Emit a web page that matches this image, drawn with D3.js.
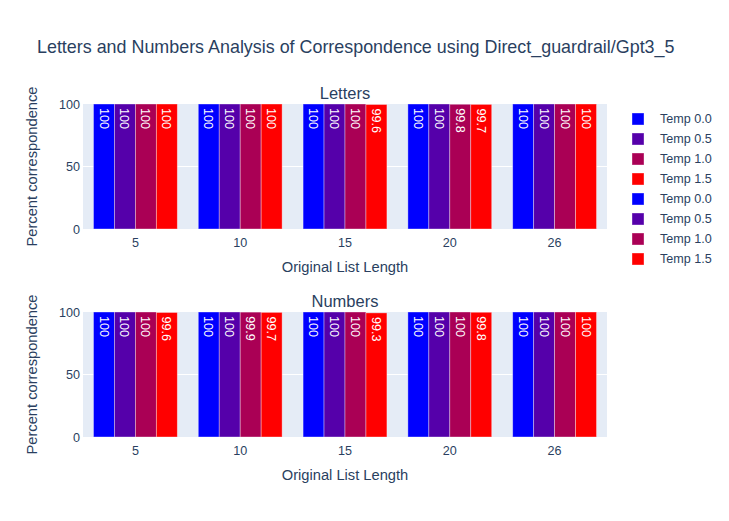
<!DOCTYPE html>
<html><head><meta charset="utf-8">
<script src="https://cdn.jsdelivr.net/npm/d3@7"></script>
<style>body{margin:0;background:#fff}svg{display:block}</style>
</head><body>
<script>
const categories = ["5","10","15","20","26"];
const seriesNames = ["Temp 0.0","Temp 0.5","Temp 1.0","Temp 1.5"];
const seriesColors = ["#0000FF","#5500AA","#AA0055","#FF0000"];
const lettersT00 = [100,100,100,100,100];
const lettersT05 = [100,100,100,100,100];
const lettersT10 = [100,100,100,99.8,100];
const lettersT15 = [100,100,99.6,99.7,100];
const numbersT00 = [100,100,100,100,100];
const numbersT05 = [100,100,100,100,100];
const numbersT10 = [100,99.9,100,100,100];
const numbersT15 = [99.6,99.7,99.3,99.8,100];
const yTicks = [0,50,100];
const titleText = "Letters and Numbers Analysis of Correspondence using Direct_guardrail/Gpt3_5";

const W=729,H=521;
const font='"Liberation Sans", Arial, sans-serif';
const textCol="#2a3f5f";
const svg=d3.select("body").append("svg").attr("width",W).attr("height",H);

svg.append("text").attr("x",37).attr("y",53).attr("font-family",font).attr("font-size",17.9)
  .attr("fill",textCol).text(titleText);

const panels=[
  {name:"Letters",top:104,bottom:229,data:[lettersT00,lettersT05,lettersT10,lettersT15]},
  {name:"Numbers",top:312,bottom:437,data:[numbersT00,numbersT05,numbersT10,numbersT15]}
];
const left=83,right=607;
const x=d3.scaleBand().domain(categories).range([left,right]).paddingInner(0.2).paddingOuter(0.1);
const xs=d3.scaleBand().domain(seriesNames).range([0,x.bandwidth()]);

panels.forEach(p=>{
  const y=d3.scaleLinear().domain([0,100]).range([p.bottom,p.top]);
  const g=svg.append("g");
  g.append("rect").attr("x",left).attr("y",p.top).attr("width",right-left).attr("height",p.bottom-p.top).attr("fill","#E5ECF6");
  g.selectAll(".grid").data(yTicks.filter(t=>t>0&&t<100)).join("line")
    .attr("x1",left).attr("x2",right).attr("y1",d=>y(d)).attr("y2",d=>y(d)).attr("stroke","#fff").attr("stroke-width",1);
  const ya=g.append("g").attr("transform",`translate(${left},0)`).call(d3.axisLeft(y).tickValues(yTicks).tickSize(0).tickPadding(3));
  ya.select(".domain").remove();
  ya.selectAll("text").attr("font-family",font).attr("font-size",12.6).attr("fill",textCol);
  const xa=g.append("g").attr("transform",`translate(0,${p.bottom})`).call(d3.axisBottom(x).tickSize(0).tickPadding(9));
  xa.select(".domain").remove();
  xa.selectAll("text").attr("font-family",font).attr("font-size",12.6).attr("fill",textCol);
  seriesNames.forEach((s,si)=>{
    const vals=p.data[si];
    const bg=g.append("g");
    bg.selectAll("rect").data(vals).join("rect")
      .attr("x",(d,i)=>x(categories[i])+xs(s))
      .attr("y",d=>y(d)).attr("width",xs.bandwidth()).attr("height",d=>p.bottom-y(d))
      .attr("fill",seriesColors[si]).attr("stroke","rgba(255,255,255,0.45)").attr("stroke-width",0.8);
    bg.selectAll("text").data(vals).join("text")
      .attr("transform",(d,i)=>`translate(${x(categories[i])+xs(s)+xs.bandwidth()/2},${y(d)+4}) rotate(90)`)
      .attr("dy","0.35em").attr("text-anchor","start")
      .attr("font-family",font).attr("font-size",12.6).attr("fill","#fff")
      .text(d=>d3.format("")(d));
  });
  svg.append("text").attr("x",(left+right)/2).attr("y",p.top-5).attr("text-anchor","middle")
    .attr("font-family",font).attr("font-size",16.5).attr("fill",textCol).text(p.name);
  svg.append("text").attr("x",(left+right)/2).attr("y",p.bottom+43).attr("text-anchor","middle")
    .attr("font-family",font).attr("font-size",14.7).attr("fill",textCol).text("Original List Length");
  svg.append("text").attr("transform",`translate(37,${(p.top+p.bottom)/2}) rotate(-90)`).attr("text-anchor","middle")
    .attr("font-family",font).attr("font-size",14.7).attr("fill",textCol).text("Percent correspondence");
});

const legendItems=[...seriesNames.map((n,i)=>({n,c:seriesColors[i]})),...seriesNames.map((n,i)=>({n,c:seriesColors[i]}))];
const lg=svg.append("g");
legendItems.forEach((d,i)=>{
  const yy=119+i*20;
  lg.append("rect").attr("x",632).attr("y",yy-6).attr("width",12).attr("height",12).attr("fill",d.c)
    .attr("stroke","rgba(255,255,255,0.45)").attr("stroke-width",0.8);
  lg.append("text").attr("x",660).attr("y",yy).attr("dy","0.35em").attr("font-family",font).attr("font-size",12.6)
    .attr("fill",textCol).text(d.n);
});
</script>
</body></html>
